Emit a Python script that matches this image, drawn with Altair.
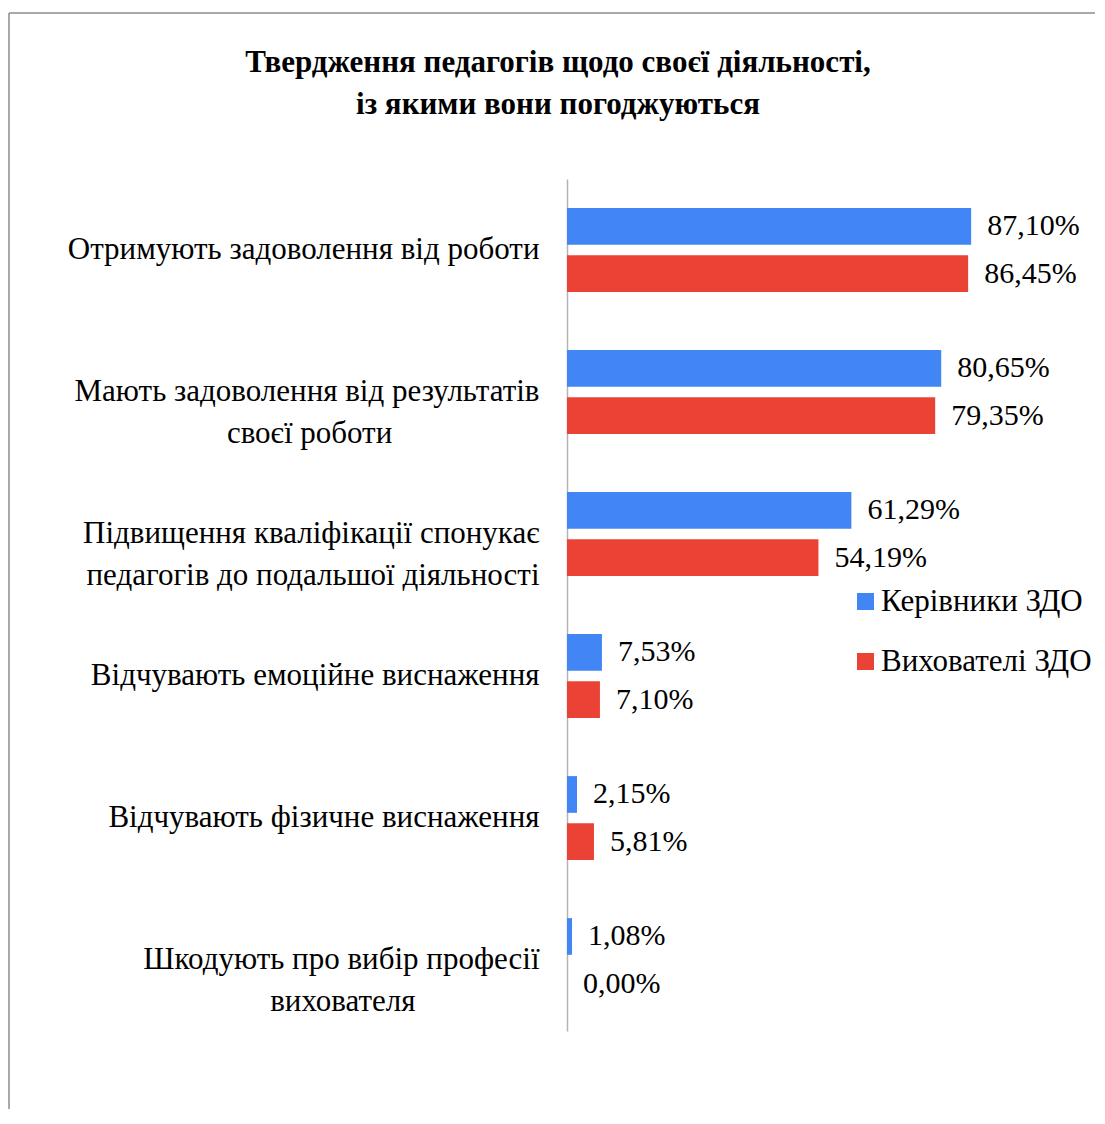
import altair as alt
import pandas as pd

NB = "\u00a0"
END = "\u200b"
categories = [
    "Отримують задоволення від роботи",
    "Мають задоволення від результатів|своєї роботи" + NB * 19 + END,
    "Підвищення кваліфікації  спонукає|педагогів до подальшої діяльності",
    "Відчувають емоційне виснаження",
    "Відчувають фізичне виснаження",
    "Шкодують про вибір професії|вихователя" + NB * 16 + END,
]
series = ["Керівники ЗДО", "Вихователі ЗДО"]
kerivnyky = [87.10, 80.65, 61.29, 7.53, 2.15, 1.08]
vykhovateli = [86.45, 79.35, 54.19, 7.10, 5.81, 0.00]
colors = ["#4285F4", "#EA4335"]

rows = []
for i, c in enumerate(categories):
    for s, vals in zip(series, [kerivnyky, vykhovateli]):
        v = vals[i]
        rows.append({"cat": c, "series": s, "value": v,
                     "label": f"{v:.2f}".replace(".", ",") + "%"})
df = pd.DataFrame(rows)

FONT = "Liberation Serif"

y = alt.Y("cat:N", sort=categories,
          scale=alt.Scale(paddingInner=0.41, paddingOuter=0.205),
          axis=alt.Axis(title=None, labelExpr="split(datum.label, '|')",
                        labelFont=FONT, labelFontSize=31, labelColor="#000000",
                        labelLineHeight=42, labelPadding=28, labelAlign="right",
                        labelLimit=0, ticks=False, domainColor="#b4b4b4",
                        domainWidth=1.5))
x = alt.X("value:Q", scale=alt.Scale(domain=[0, 100]), axis=None)
yoff = alt.YOffset("series:N", sort=series,
                   scale=alt.Scale(paddingInner=0.22, paddingOuter=0))

base = alt.Chart(df)

bars = base.mark_bar().encode(
    y=y, x=x, yOffset=yoff,
    color=alt.Color("series:N", sort=series,
                    scale=alt.Scale(domain=series, range=colors),
                    legend=alt.Legend(title=None, orient="none", legendX=279, legendY=407,
                                      symbolType="square", symbolSize=289,
                                      symbolStrokeWidth=0, symbolOffset=4,
                                      labelFont=FONT,
                                      labelFontSize=31, labelColor="#000000",
                                      labelLimit=0, rowPadding=28, labelOffset=0)),
)

texts = base.mark_text(align="left", baseline="middle", dx=16, font=FONT,
                       fontSize=30, color="#000000").encode(
    y=y, x=x, yOffset=yoff, text="label:N")

frame_left = alt.Chart(alt.Data(values=[{}])).mark_rule(color="#8c8c8c", strokeWidth=1.5).encode(
    x=alt.value(-558), y=alt.value(-166), y2=alt.value(930))
frame_top = alt.Chart(alt.Data(values=[{}])).mark_rule(color="#8c8c8c", strokeWidth=1.5).encode(
    x=alt.value(-558), x2=alt.value(528), y=alt.value(-166))

chart = alt.layer(frame_left, frame_top, bars, texts).properties(
    width=464, height=852,
    padding={"left": 0, "top": 4, "right": 0, "bottom": 0},
    title=alt.TitleParams(
        ["Твердження педагогів щодо своєї діяльності,", "із якими вони погоджуються"],
        font=FONT, fontSize=31, fontWeight="bold", color="#000000",
        lineHeight=42, anchor="middle", frame="bounds", offset=-109, dx=6),
).configure_view(stroke=None)

chart.save("out.html", embed_options={"renderer": "svg", "actions": False})
